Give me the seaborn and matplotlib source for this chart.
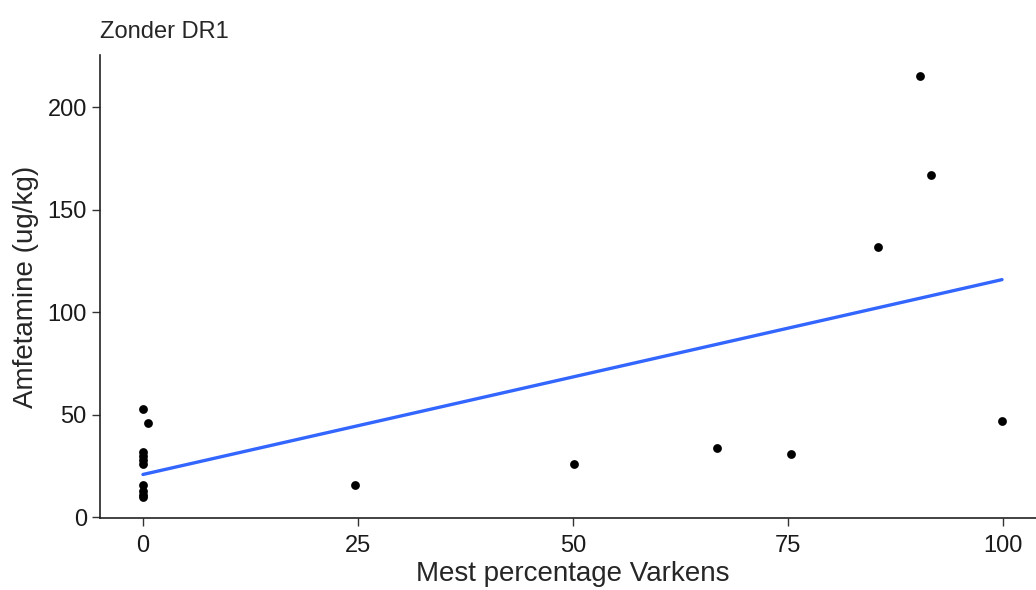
import seaborn as sns
import matplotlib.pyplot as plt
import pandas as pd

# data
mest_pct = [0, 0, 0, 0, 0, 0, 0, 0, 0, 0.6, 24.7, 50.1, 66.8, 75.4, 85.5, 90.4, 91.6, 99.9]
amfetamine = [53, 32, 30, 28, 26, 16, 13, 11, 10, 46, 16, 26, 34, 31, 132, 215, 167, 47]

df = pd.DataFrame({"mest": mest_pct, "amf": amfetamine})

sns.set_style("ticks")
plt.rcParams['font.family'] = ['Liberation Sans', 'DejaVu Sans']

fig = plt.figure(figsize=(10.36, 5.9), dpi=100)
ax = fig.add_axes([0.0965, 0.122, 0.913, 0.785])

sns.regplot(data=df, x="mest", y="amf", ax=ax, ci=None,
            scatter_kws={"s": 40, "color": "black", "alpha": 1, "linewidths": 0},
            line_kws={"color": "#3366FF", "linewidth": 2.4})

ax.set_xlim(-5, 105)
ax.set_ylim(-0.3, 225.5)
ax.set_xticks([0, 25, 50, 75, 100])
ax.set_yticks([0, 50, 100, 150, 200])
ax.tick_params(labelsize=17, length=6, width=1, colors="#333333", labelcolor="#1a1a1a")
ax.tick_params(axis="x", pad=6)
ax.set_xlabel("Mest percentage Varkens", fontsize=20, labelpad=3)
ax.set_ylabel("Amfetamine (ug/kg)", fontsize=20, labelpad=6)
for side in ["left", "bottom"]:
    ax.spines[side].set_color("#222222")
    ax.spines[side].set_linewidth(1.2)
sns.despine(ax=ax)

fig.text(0.0965, 0.945, "Zonder DR1", fontsize=17, ha="left", va="center")

fig.savefig("out.png", dpi=100)
plt.close()
